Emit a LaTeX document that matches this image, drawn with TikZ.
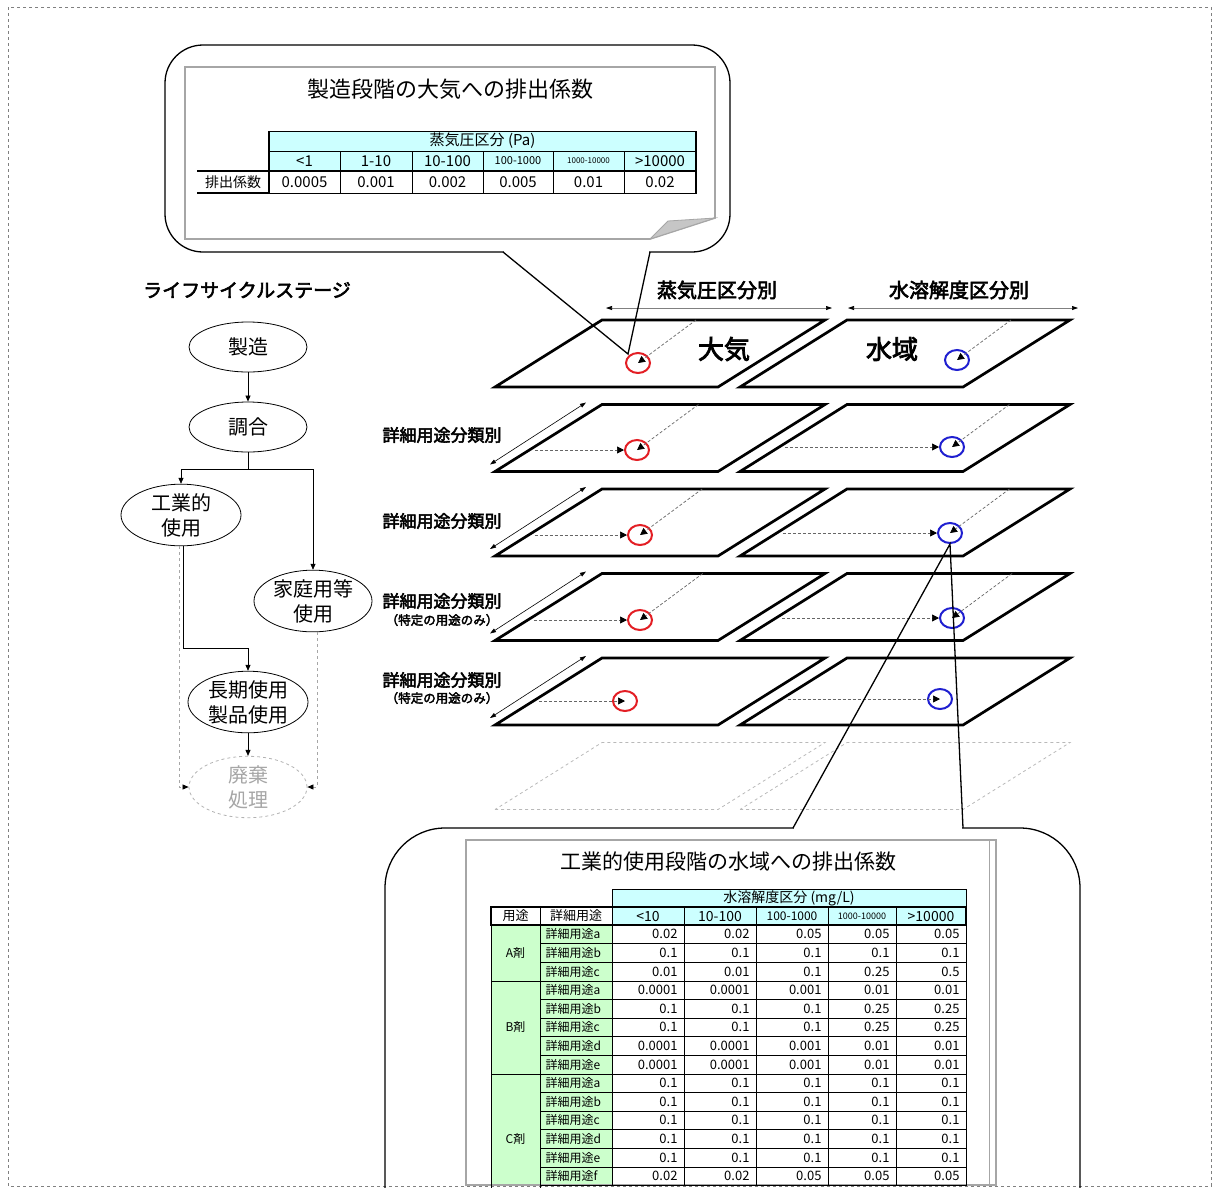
\documentclass[tikz,border=0pt]{standalone}
\usepackage{fontspec}
\setmainfont{Noto Sans CJK JP}[AutoFakeBold=3]
\usetikzlibrary{arrows.meta,shapes.geometric,calc,positioning}
\definecolor{aircol}{HTML}{E31E24}
\definecolor{watercol}{HTML}{1F1FD0}
\definecolor{hdrcyan}{HTML}{CCFFFF}
\definecolor{lblgreen}{HTML}{CCFFCC}
\newcommand{\fsz}[1]{\fontsize{#1}{#1}\selectfont}

\begin{document}
\begin{tikzpicture}[x=1pt,y=-1pt,
  stage/.style={ellipse,draw,line width=0.8pt,minimum width=118pt,minimum height=50pt,inner sep=0pt,align=center,font=\fontsize{20}{25}\selectfont},
  flow/.style={line width=0.7pt,-{Triangle[length=6pt,width=5pt]}},
  ghostflow/.style={line width=0.7pt,dashed,gray!70,-{Triangle[length=6pt,width=5pt,color=black]}},
  plane/.style={line width=2.7pt,line join=miter,fill=white},
  ghost/.style={gray!55,dashed,line width=0.8pt},
  spot/.style={ellipse,draw,line width=2pt,minimum width=24pt,minimum height=20pt,inner sep=0pt},
  guide/.style={densely dashed,gray!80!black,line width=0.7pt,-{Triangle[length=7pt,width=7pt,color=black]}},
  spread/.style={line width=0.6pt,{Triangle[length=6pt,width=4pt,color=black]}-{Triangle[length=6pt,width=4pt,color=black]}},
  callout/.style={draw,line width=1.3pt,inner sep=0pt},
  cell/.style={draw,line width=0.6pt},
  bighead/.style={font=\bfseries\fsz{20}},
  uselbl/.style={font=\bfseries\fsz{17}},
  onlylbl/.style={font=\bfseries\fsz{12.5}},
]
\useasboundingbox (0,0) rectangle (1215,1187);
\draw[gray,dashed,line width=0.8pt] (8,7) rectangle (1211,1186);

% ライフサイクルステージ
\node[font=\bfseries\fsz{19}] (lcs) at (247,290) {ライフサイクルステージ};
\node[stage] (mfg) at (248,347) {製造};
\node[stage] (blend) at (248,427) {調合};
\node[stage,minimum width=120pt,minimum height=58pt] (ind) at (181,515) {工業的\\使用};
\node[stage,minimum width=118pt,minimum height=58pt] (home) at (313,601) {家庭用等\\使用};
\node[stage,minimum width=120pt,minimum height=60pt] (long) at (248,702) {長期使用\\製品使用};
\node[stage,minimum width=118pt,minimum height=60pt,dashed,gray!60,text=gray!70] (waste) at (248,787) {廃棄\\処理};
\coordinate (split) at (248,469);
\draw[flow] (mfg) -- (blend);
\draw[line width=0.7pt] (blend.south) -- (split);
\draw[flow] (split) -| (ind.north);
\draw[flow] (split) -| (home.north);
\draw[flow] ([xshift=2pt]ind.south) |- ($(long.north)+(0,-22)$) -- (long.north);
\draw[ghostflow] ([xshift=-2pt]ind.south) |- (waste.west);
\draw[ghostflow] ([xshift=4pt]home.south) |- (waste.east);
\draw[flow] (long) -- (waste);

% 媒体ごとの面
\foreach \r in {0,...,4}{
  \pgfmathsetmacro{\b}{387+84.5*\r}
  \draw[plane] (495,\b) -- ++(223,0) -- ++(107,-67) -- ++(-223,0) -- cycle;
  \draw[plane] (740,\b) -- ++(223,0) -- ++(107,-67) -- ++(-223,0) -- cycle;
}
\draw[ghost] (495,809.5) -- ++(223,0) -- ++(107,-67) -- ++(-223,0) -- cycle;
\draw[ghost] (740,809.5) -- ++(223,0) -- ++(107,-67) -- ++(-223,0) -- cycle;

\node[bighead] (vpsplit) at (717,290) {蒸気圧区分別};
\node[bighead] (wssplit) at (959,290) {水溶解度区分別};
\coordinate (vpL) at (606,308); \coordinate (vpR) at (832,308);
\coordinate (wsL) at (848,308); \coordinate (wsR) at (1078,308);
\draw[spread,gray] (vpL) -- (vpR);
\draw[spread,gray] (wsL) -- (wsR);
\node[font=\bfseries\fsz{26}] (airlbl) at (724,349) {大気};
\node[font=\bfseries\fsz{26}] (watlbl) at (892,349) {水域};

% 詳細用途分類
\node[uselbl] (use2) at (442,435) {詳細用途分類別};
\node[uselbl] (use3) at (442,521) {詳細用途分類別};
\node[uselbl] (use4) at (442,601) {詳細用途分類別};
\node[onlylbl] (only4) at (442,620) {（特定の用途のみ）};
\node[uselbl] (use5) at (442,680) {詳細用途分類別};
\node[onlylbl] (only5) at (442,698) {（特定の用途のみ）};
\foreach \r in {1,...,4}{
  \pgfmathsetmacro{\b}{387+84.5*\r}
  \draw[spread] (490,{\b-7}) -- (586,{\b-69});
}

% 排出点
\foreach \n/\T/\ax/\ay/\wx/\wy in {1/320/638/363/957/360, 2/404.5/637/450/952/447, 3/489/640/535/950/533, 4/573.5/640/620/952/618, 5/658/625/701/940/699}{
  \node[spot,draw=aircol] (air\n) at (\ax,\ay) {};
  \node[spot,draw=watercol] (wat\n) at (\wx,\wy) {};
}
\foreach \n/\T/\ax/\ay/\wx/\wy in {1/320/638/363/957/360, 2/404.5/637/450/952/447, 3/489/640/535/950/533, 4/573.5/640/620/952/618}{
  \draw[guide] ({\ax+1.35*(\ay-\T)},\T) -- (air\n.center);
  \draw[guide] ({\wx+1.35*(\wy-\T)},\T) -- (wat\n.center);
}
\foreach \n/\T/\ax/\ay/\wx/\wy in {2/404.5/637/450/952/447, 3/489/640/535/950/533, 4/573.5/640/620/952/618}{
  \draw[guide] ({501+1.6*(\T+67-\ay)},\ay) -- (air\n.west);
  \draw[guide] ({746+1.6*(\T+67-\wy)},\wy) -- (wat\n.west);
}
\draw[guide] ({501+1.6*(725-701)},701) -- (air5.center);
\draw[guide] ({746+1.6*(725-699)},699) -- (wat5.center);

% 製造段階の吹き出し
\node[callout,rounded corners=38pt,minimum width=565pt,minimum height=207pt] (topcall) at (447.5,148.5) {};
\fill[white] (504,249) rectangle (649,255);
\coordinate (ttailL) at (503,252); \coordinate (ttailR) at (650,252);
\coordinate (ttip) at (628,354);
\draw[line width=1.3pt] (ttailL) -- (ttip) -- (ttailR);
\draw[gray!70,line width=1.6pt,fill=white] (185,67) -- (715,67) -- (715,218) -- (650,239) -- (185,239) -- cycle;
\filldraw[gray!70,fill=gray!45,line width=0.8pt] (650,239) -- (668,221) -- (715,218) -- cycle;
\node[font=\fsz{22}] (ttitle) at (450,89) {製造段階の大気への排出係数};
\fill[hdrcyan] (269,131) rectangle (696,171);
\draw[cell] (269,131) rectangle (696,151);
\node[font=\fsz{15}] (tvp) at (482.5,141) {蒸気圧区分 (Pa)};
\foreach \i/\xa/\xb/\hd/\hs/\val in {1/269/340/{<1}/15/0.0005, 2/340/412/1-10/15/0.001, 3/412/483/10-100/15/0.002, 4/483/553/100-1000/11/0.005, 5/553/624/1000-10000/8/0.01, 6/624/696/{>10000}/15/0.02}{
  \draw[cell] (\xa,151) rectangle (\xb,193);
  \node[font=\fsz{\hs}] (th\i) at ({(\xa+\xb)/2},161) {\hd};
  \node[font=\fsz{15}] (tv\i) at ({(\xa+\xb)/2},182.5) {\val};
}
\draw[line width=2.4pt] (197,171) -- (696,171);
\draw[line width=2.4pt] (269,131) -- (269,193);
\draw[line width=1.5pt] (696,131) -- (696,193);
\draw[line width=1.6pt] (197,193) -- (269,193);
\node[font=\fsz{14}] (tlab) at (233,182) {排出係数};

% 工業的使用段階の吹き出し
\node[callout,rounded corners=60pt,minimum width=695pt,minimum height=420pt] (botcall) at (732.5,1038) {};
\fill[white] (794,825) rectangle (962,831);
\coordinate (btailL) at (793,828); \coordinate (btailR) at (963,828);
\draw[line width=1.3pt] (btailL) -- (wat3.south) -- (btailR);
\draw[gray!70,line width=1.8pt,fill=white] (466,840) rectangle (996,1185);
\draw[gray!70,line width=0.8pt] (989,840) -- (989,1185);
\node[font=\fsz{21}] (btitle) at (728,862) {工業的使用段階の水域への排出係数};
\fill[hdrcyan] (612,889) rectangle (966,925);
\fill[lblgreen] (491,925) rectangle (612,1184);
\draw[cell] (612,889) rectangle (966,907);
\node[font=\fsz{14}] (bws) at (789,898) {水溶解度区分 (mg/L)};
\draw[cell] (491,907) rectangle (540,925);
\draw[cell] (540,907) rectangle (612,925);
\node[font=\fsz{13}] (buse) at (515.5,916) {用途};
\node[font=\fsz{13}] (bdet) at (576,916) {詳細用途};
\foreach \c/\xa/\xb/\hd/\hs in {1/612/684/{<10}/14, 2/684/756/10-100/14, 3/756/828/100-1000/12, 4/828/896/1000-10000/9, 5/896/966/{>10000}/14}{
  \draw[cell] (\xa,907) rectangle (\xb,925);
  \node[font=\fsz{\hs}] (bh\c) at ({(\xa+\xb)/2},916) {\hd};
}
\foreach \r/\lab/\va/\vb/\vc/\vd/\ve in {0/a/0.02/0.02/0.05/0.05/0.05, 1/b/0.1/0.1/0.1/0.1/0.1, 2/c/0.01/0.01/0.1/0.25/0.5, 3/a/0.0001/0.0001/0.001/0.01/0.01, 4/b/0.1/0.1/0.1/0.25/0.25, 5/c/0.1/0.1/0.1/0.25/0.25, 6/d/0.0001/0.0001/0.001/0.01/0.01, 7/e/0.0001/0.0001/0.001/0.01/0.01, 8/a/0.1/0.1/0.1/0.1/0.1, 9/b/0.1/0.1/0.1/0.1/0.1, 10/c/0.1/0.1/0.1/0.1/0.1, 11/d/0.1/0.1/0.1/0.1/0.1, 12/e/0.1/0.1/0.1/0.1/0.1, 13/f/0.02/0.02/0.05/0.05/0.05}{
  \pgfmathsetmacro{\yt}{925+18.6*\r}
  \pgfmathsetmacro{\ym}{\yt+9.3}
  \draw[cell] (540,\yt) rectangle (612,{\yt+18.6});
  \node[anchor=west,font=\fsz{12}] (dl\r) at (542,\ym) {詳細用途\lab};
  \foreach \c/\xa/\xb/\v in {1/612/684/\va, 2/684/756/\vb, 3/756/828/\vc, 4/828/896/\vd, 5/896/966/\ve}{
    \draw[cell] (\xa,\yt) rectangle (\xb,{\yt+18.6});
    \node[anchor=east,font=\fsz{13}] (d\r-\c) at ({\xb-3},\ym) {\v};
  }
}
\draw[cell] (491,925) rectangle (540,980.8);
\draw[cell] (491,980.8) rectangle (540,1073.8);
\draw[cell] (491,1073.8) rectangle (540,1200);
\draw[line width=1.5pt] (491,907) rectangle (966,925);
\node[font=\fsz{12}] (grpA) at (515.5,953) {A剤};
\node[font=\fsz{12}] (grpB) at (515.5,1027) {B剤};
\node[font=\fsz{12}] (grpC) at (515.5,1139) {C剤};
\end{tikzpicture}
\end{document}
